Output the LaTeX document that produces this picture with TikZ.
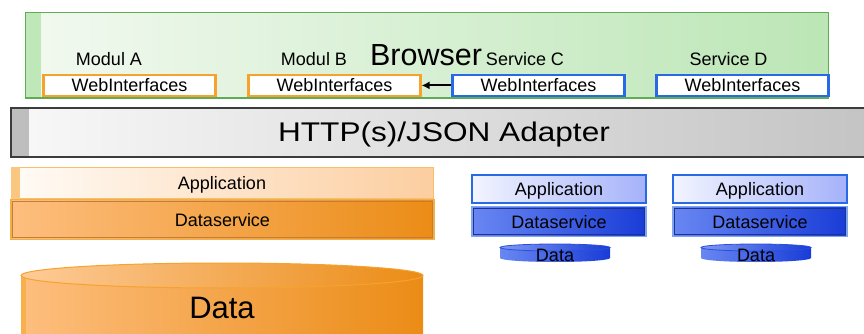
\documentclass[tikz,border=0pt]{standalone}
\usepackage{fontspec}
\setmainfont{Liberation Sans}
\usetikzlibrary{arrows.meta}
\definecolor{grborder}{RGB}{95,172,85}
\definecolor{grleft}{RGB}{242,249,240}
\definecolor{grright}{RGB}{188,230,182}
\definecolor{grstrip}{RGB}{190,232,184}
\definecolor{gyborder}{RGB}{60,60,60}
\definecolor{gyleft}{RGB}{248,248,248}
\definecolor{gyright}{RGB}{196,196,196}
\definecolor{gystrip}{RGB}{190,190,190}
\definecolor{orborder}{RGB}{246,162,45}
\definecolor{orapleft}{RGB}{255,251,246}
\definecolor{orapright}{RGB}{252,206,160}
\definecolor{ordsleft}{RGB}{253,190,126}
\definecolor{ordsright}{RGB}{235,140,22}
\definecolor{ordsline}{RGB}{240,178,70}
\definecolor{ordsin}{RGB}{196,124,60}
\definecolor{blborder}{RGB}{40,105,230}
\definecolor{blapleft}{RGB}{242,244,255}
\definecolor{blapright}{RGB}{165,178,250}
\definecolor{bldsleft}{RGB}{105,135,242}
\definecolor{bldsright}{RGB}{25,60,215}
\definecolor{bldsin}{RGB}{30,50,150}
\definecolor{blcyl}{RGB}{40,80,220}

\begin{document}
\begin{tikzpicture}[x=1pt,y=-1pt,
  txt/.style={inner sep=0pt,anchor=base,font=\fontsize{18}{20}\selectfont},
  web/.style={draw=#1,line width=2.1pt,fill=white,minimum width=172pt,minimum height=21pt,
    inner sep=0pt,font=\fontsize{18}{20}\selectfont,text height=13pt,text depth=0pt},
  layer/.style={inner sep=0pt,font=\fontsize{18}{20}\selectfont,text height=13pt,text depth=0pt},
  orapp/.style={layer,draw=orborder!70,line width=1pt,left color=orapleft,right color=orapright,minimum width=422pt,minimum height=31pt},
  ords/.style={layer,draw=ordsline,line width=1.4pt,left color=ordsleft,right color=ordsright,minimum width=423pt,minimum height=40pt},
  blapp/.style={layer,draw=blborder,line width=1.3pt,left color=blapleft,right color=blapright,minimum width=174pt,minimum height=28pt},
  blds/.style={layer,draw=blborder!60,line width=1.3pt,left color=bldsleft,right color=bldsright,minimum width=174pt,minimum height=30pt}]
\useasboundingbox (0,0) rectangle (864,334);
\clip (0,0) rectangle (864,334);

%Browser
\node[left color=grleft,right color=grright,minimum width=802pt,minimum height=84.7pt,inner sep=0pt] (browser) at (427,55.4) {};
\fill[grstrip] (browser.north west) rectangle ([xshift=15pt]browser.south west);
\draw[grborder,line width=1.3pt] (browser.north west) rectangle (browser.south east);
\node[txt,font=\fontsize{30.5}{32}\selectfont] (brtitle) at (426,65.7) {Browser};

%Moduls and Services
\node[txt] (modA) at (109,66) {Modul A};
\node[txt] (modB) at (314,66) {Modul B};
\node[txt] (servC) at (525,66) {Service C};
\node[txt] (servD) at (728.5,66) {Service D};
\node[web=orborder] (webA) at (129.5,85.4) {WebInterfaces};
\node[web=orborder] (webB) at (334.5,85.4) {WebInterfaces};
\node[web=blborder] (webC) at (538.5,85.4) {WebInterfaces};
\node[web=blborder] (webD) at (742.5,85.4) {WebInterfaces};
\draw[line width=2.2pt,-{Latex[length=8pt,width=8pt]}] (webC.west) -- (webB.east);

%Adapter
\node[left color=gyleft,right color=gyright,minimum width=859pt,minimum height=49pt,inner sep=0pt] (adapter) at (440.5,132.5) {};
\fill[gystrip] (adapter.north west) rectangle ([xshift=18pt]adapter.south west);
\draw[gyborder,line width=1.6pt] (adapter.north east) -- (adapter.north west) -- (adapter.south west) -- (adapter.south east);
\node[txt,font=\fontsize{27}{30}\selectfont,xscale=1.17] (adtitle) at (444,141.7) {HTTP(s)/JSON Adapter};

%Modul stack
\node[orapp] (appO) at (222,182.5) {Application};
\fill[orborder!60] (appO.north west) rectangle ([xshift=9pt]appO.south west);
\node[ords] (dsO) at (222.5,219.5) {Dataservice};
\draw[ordsin,line width=1pt] ([shift={(2.5,2.5)}]dsO.north west) rectangle ([shift={(-2.5,-2.5)}]dsO.south east);

%big Data
\shade[left color=ordsleft,right color=ordsright] (21,275.5) -- (21,350) -- (423,350) -- (423,275.5) -- cycle;
\fill[orborder!85] (21,275.5) rectangle (26,350);
\shade[left color=ordsleft!80!white,right color=ordsright] (222,275.5) ellipse[x radius=201,y radius=12.5];
\draw[orborder,line width=1pt] (222,275.5) ellipse[x radius=201,y radius=12.5];
\node[txt,font=\fontsize{31}{34}\selectfont] (dataO) at (222,318) {Data};

%Service stacks
\foreach \s/\x/\c in {C/559/555,D/760/756}{
  \node[blapp] (app\s) at (\x,189) {Application};
  \node[blds] (ds\s) at (\x,221.7) {Dataservice};
  \draw[bldsin,line width=1pt] ([shift={(2.5,2.5)}]ds\s.north west) rectangle ([shift={(-2.5,-2.5)}]ds\s.south east);
  \shade[left color=bldsleft,right color=bldsright] (\c-55,247.5) -- (\c-55,258) arc[start angle=180,end angle=0,x radius=55,y radius=4] -- (\c+55,247.5) -- cycle;
  \shade[left color=bldsleft!85!white,right color=bldsright] (\c,247.5) ellipse[x radius=55,y radius=3.5];
  \draw[blcyl,line width=0.8pt] (\c,247.5) ellipse[x radius=55,y radius=3.5];
  \node[txt] (data\s) at (\c,261.5) {Data};
}
\end{tikzpicture}
\end{document}
